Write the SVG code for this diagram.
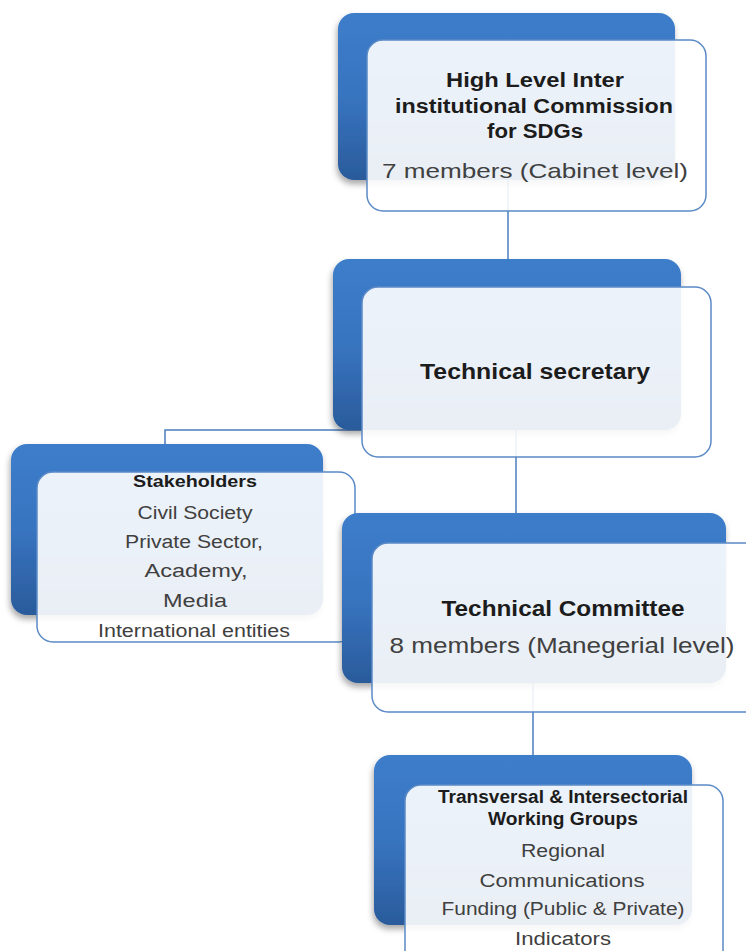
<svg xmlns="http://www.w3.org/2000/svg" width="746" height="951" viewBox="0 0 746 951">
<defs>
<linearGradient id="blueGrad" x1="0" y1="0" x2="0" y2="1">
<stop offset="0" stop-color="#3d7dca"/>
<stop offset="0.5" stop-color="#3874c0"/>
<stop offset="1" stop-color="#2a5b9b"/>
</linearGradient>
<filter id="shadow" x="-10%" y="-10%" width="125%" height="130%">
<feDropShadow dx="-1" dy="4" stdDeviation="3" flood-color="#000" flood-opacity="0.35"/>
</filter>
</defs>
<style>
.back{fill:url(#blueGrad);filter:url(#shadow);}
.front{fill:#ffffff;fill-opacity:0.9;stroke:#5b8ac6;stroke-width:1.5;}
.conn{stroke:#4a7ebf;stroke-width:1.5;fill:none;}
.b{font-family:"Liberation Sans",Arial,sans-serif;font-weight:bold;fill:#1c1c1c;text-anchor:middle;}
.r{font-family:"Liberation Sans",Arial,sans-serif;fill:#404040;text-anchor:middle;}
</style>
<rect width="746" height="951" fill="#ffffff"/>
<g id="connectors">
<line class="conn" x1="508" y1="178" x2="508" y2="262"/>
<line class="conn" x1="516" y1="428" x2="516" y2="516"/>
<polyline class="conn" points="362,430 165,430 165,446"/>
<line class="conn" x1="533" y1="681" x2="533" y2="758"/>
</g>
<g id="node-commission">
<rect class="back" x="338" y="13" width="337" height="167" rx="16"/>
<rect class="front" x="367" y="40" width="339" height="171" rx="16"/>
<text class="b" x="535" y="87" font-size="20" textLength="178" lengthAdjust="spacingAndGlyphs">High Level Inter</text>
<text class="b" x="534" y="113" font-size="20" textLength="278" lengthAdjust="spacingAndGlyphs">institutional Commission</text>
<text class="b" x="535" y="138" font-size="20" textLength="96" lengthAdjust="spacingAndGlyphs">for SDGs</text>
<text class="r" x="535" y="178" font-size="21" textLength="306" lengthAdjust="spacingAndGlyphs">7 members (Cabinet level)</text>
</g>
<g id="node-secretary">
<rect class="back" x="333" y="259" width="348" height="171" rx="16"/>
<rect class="front" x="362" y="287" width="349" height="170" rx="16"/>
<text class="b" x="535" y="379" font-size="22" textLength="230" lengthAdjust="spacingAndGlyphs">Technical secretary</text>
</g>
<g id="node-stakeholders">
<rect class="back" x="11" y="444" width="312" height="171" rx="16"/>
<rect class="front" x="37" y="472" width="318" height="170" rx="16"/>
<text class="b" x="195" y="487" font-size="17" textLength="124" lengthAdjust="spacingAndGlyphs">Stakeholders</text>
<text class="r" x="195" y="519" font-size="18" textLength="115" lengthAdjust="spacingAndGlyphs">Civil Society</text>
<text class="r" x="194" y="548" font-size="18" textLength="138" lengthAdjust="spacingAndGlyphs">Private Sector,</text>
<text class="r" x="196" y="577" font-size="18" textLength="103" lengthAdjust="spacingAndGlyphs">Academy,</text>
<text class="r" x="195" y="607" font-size="18" textLength="64" lengthAdjust="spacingAndGlyphs">Media</text>
<text class="r" x="194" y="637" font-size="18" textLength="192" lengthAdjust="spacingAndGlyphs">International entities</text>
</g>
<g id="node-committee">
<rect class="back" x="342" y="513" width="384" height="170" rx="16"/>
<rect class="front" x="372" y="543" width="390" height="169" rx="16"/>
<text class="b" x="563" y="616" font-size="22" textLength="243" lengthAdjust="spacingAndGlyphs">Technical Committee</text>
<text class="r" x="562" y="653" font-size="22" textLength="345" lengthAdjust="spacingAndGlyphs">8 members (Manegerial level)</text>
</g>
<g id="node-working-groups">
<rect class="back" x="374" y="755" width="318" height="170" rx="16"/>
<rect class="front" x="405" y="785" width="318" height="190" rx="16"/>
<text class="b" x="563" y="803" font-size="18" textLength="250" lengthAdjust="spacingAndGlyphs">Transversal &amp; Intersectorial</text>
<text class="b" x="563" y="825" font-size="18" textLength="150" lengthAdjust="spacingAndGlyphs">Working Groups</text>
<text class="r" x="563" y="857" font-size="18" textLength="84" lengthAdjust="spacingAndGlyphs">Regional</text>
<text class="r" x="562" y="887" font-size="18" textLength="165" lengthAdjust="spacingAndGlyphs">Communications</text>
<text class="r" x="563" y="915" font-size="18" textLength="243" lengthAdjust="spacingAndGlyphs">Funding (Public &amp; Private)</text>
<text class="r" x="563" y="945" font-size="18" textLength="96" lengthAdjust="spacingAndGlyphs">Indicators</text>
</g>
</svg>
